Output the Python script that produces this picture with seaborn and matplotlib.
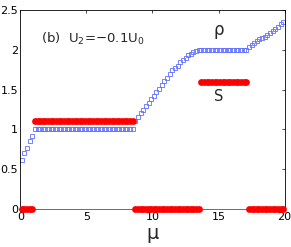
import numpy as np
import matplotlib
matplotlib.use("Agg")
import matplotlib.pyplot as plt
import seaborn as sns

# chemical potential grid (0.1 ... 19.9, step 0.2)
mu = np.round(np.arange(0.1, 20.0, 0.2), 1)

rho = ([0.62, 0.70, 0.77, 0.85, 0.92]
       + [1.00] * 38
       + [1.10, 1.15, 1.20, 1.24, 1.29, 1.33, 1.38, 1.42, 1.47, 1.51,
          1.56, 1.61, 1.65, 1.69, 1.74, 1.77, 1.80, 1.84, 1.87, 1.90,
          1.93, 1.95, 1.97, 1.98, 1.99]
       + [2.00] * 18
       + [2.03, 2.06, 2.08, 2.11, 2.13, 2.15, 2.16, 2.19, 2.21, 2.24,
          2.26, 2.29, 2.32, 2.35])

S = [0.0] * 5 + [1.1] * 38 + [0.0] * 25 + [1.6] * 18 + [0.0] * 14

xticks = [0, 5, 10, 15, 20]
yticks = [0, 0.5, 1, 1.5, 2, 2.5]
yticklabels = ['0', '0.5', '1', '1.5', '2', '2.5']

sns.set_style("white")
plt.rcParams['font.family'] = ['DejaVu Sans']

fig = plt.figure(figsize=(2.91, 2.47), dpi=100)
ax = fig.add_axes([0.070, 0.154, 0.908, 0.806])

sns.scatterplot(x=mu, y=S, ax=ax, color='red', s=24, linewidth=0,
                clip_on=False, zorder=3)
sns.lineplot(x=mu, y=rho, ax=ax, linestyle='', marker='s', markersize=2.3,
             markerfacecolor='none', markeredgecolor='#5f6fff',
             markeredgewidth=0.6, zorder=2)

ax.set_xlim(0, 20)
ax.set_ylim(0, 2.5)
ax.set_xticks(xticks)
ax.set_yticks(yticks)
ax.set_yticklabels(yticklabels)
ax.tick_params(direction='in', length=2.5, width=0.5, labelsize=8, pad=2.5,
               top=True, right=True, colors='black')
ax.tick_params(axis='y', pad=1.5)
for sp in ax.spines.values():
    sp.set_linewidth(0.6)
    sp.set_color('black')
ax.spines['bottom'].set_color('#555555')

ax.set_xlabel('\u03bc', fontsize=14, labelpad=1)
ax.text(1.55, 2.08, '(b)  U$_2$=\u22120.1U$_0$', fontsize=9.5)
ax.text(15.0, 2.18, '\u03c1', fontsize=12, ha='center')
ax.text(15.0, 1.35, 'S', fontsize=10.5, ha='center')

fig.savefig('out.png', dpi=100)
